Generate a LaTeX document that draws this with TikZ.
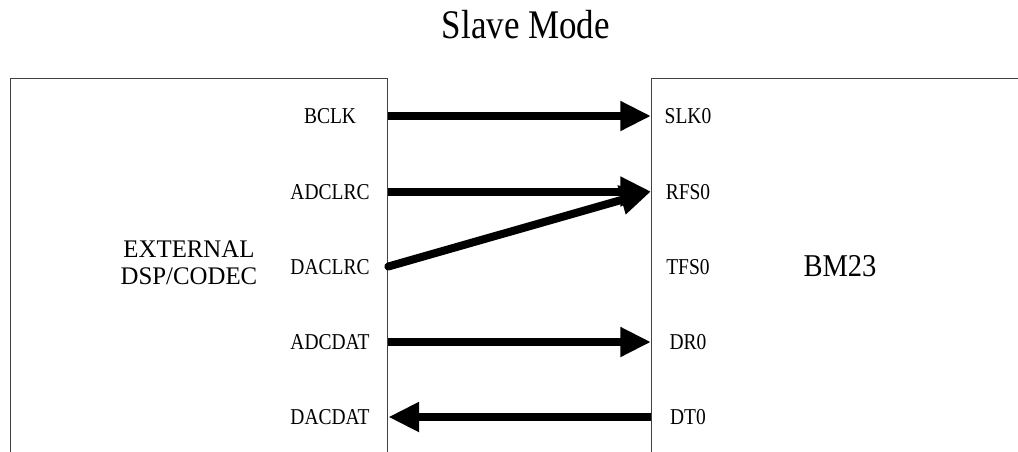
\documentclass[tikz,border=0pt]{standalone}
\usepackage{fontspec}
\setmainfont{Liberation Serif}[FakeStretch=0.86]
\newfontfamily\widefont{Liberation Serif}[FakeStretch=0.98]
\newfontfamily\midfont{Liberation Serif}[FakeStretch=0.9]
\usetikzlibrary{arrows.meta}
\begin{document}
\begin{tikzpicture}[x=0.75pt,y=-0.75pt,
  box/.style={draw=black!75,line width=1pt,inner sep=0pt,anchor=north west},
  pin/.style={font=\fontsize{17}{20}\selectfont,anchor=base,inner sep=0pt},
  sig/.style={line width=6pt,-{Triangle[length=23pt,width=21pt]}},
  rsig/.style={line width=6pt,{Triangle[length=23pt,width=21pt]}-}]
\clip (0,0) rectangle (1018,451);
\useasboundingbox (0,0) rectangle (1018,451);
\node[font=\fontsize{30.5}{34}\selectfont,anchor=base] (title) at (526,38.3) {Slave Mode};
\node[box,minimum width=377*0.75pt,minimum height=420*0.75pt] (ext) at (10,78) {};
\node[box,minimum width=420*0.75pt,minimum height=420*0.75pt] (bm) at (651,78) {};
\node[font=\widefont\fontsize{19}{20}\selectfont,align=center,inner sep=0pt] (extl) at (189,263) {EXTERNAL\\DSP/CODEC};
\node[font=\midfont\fontsize{23.8}{26}\selectfont,anchor=base,inner sep=0pt] (bml) at (840,276.7) {BM23};
% left pins
\node[pin] (bclk) at (330,123.5) {BCLK};
\node[pin] (adclrc) at (330,199) {ADCLRC};
\node[pin] (daclrc) at (330,274) {DACLRC};
\node[pin] (adcdat) at (330,349.5) {ADCDAT};
\node[pin] (dacdat) at (330,424.5) {DACDAT};
% right pins
\node[pin] (slk) at (688,123.5) {SLK0};
\node[pin] (rfs) at (688,199) {RFS0};
\node[pin] (tfs) at (688,274) {TFS0};
\node[pin] (dr) at (688,349.5) {DR0};
\node[pin] (dt) at (688,424.5) {DT0};
% signal heights
\coordinate (r1) at (0,116);
\coordinate (r2) at (0,191.5);
\coordinate (r3) at (0,266.5);
\coordinate (r4) at (0,342);
\coordinate (r5) at (0,417);
\draw[sig] (ext.east |- r1) -- (bm.west |- r1);
\draw[sig] (ext.east |- r2) -- (bm.west |- r2);
\draw[sig,line cap=round] (ext.east |- r3) -- (bm.west |- r2);
\draw[sig] (ext.east |- r4) -- (bm.west |- r4);
\draw[rsig] (ext.east |- r5) -- (bm.west |- r5);
\end{tikzpicture}
\end{document}
